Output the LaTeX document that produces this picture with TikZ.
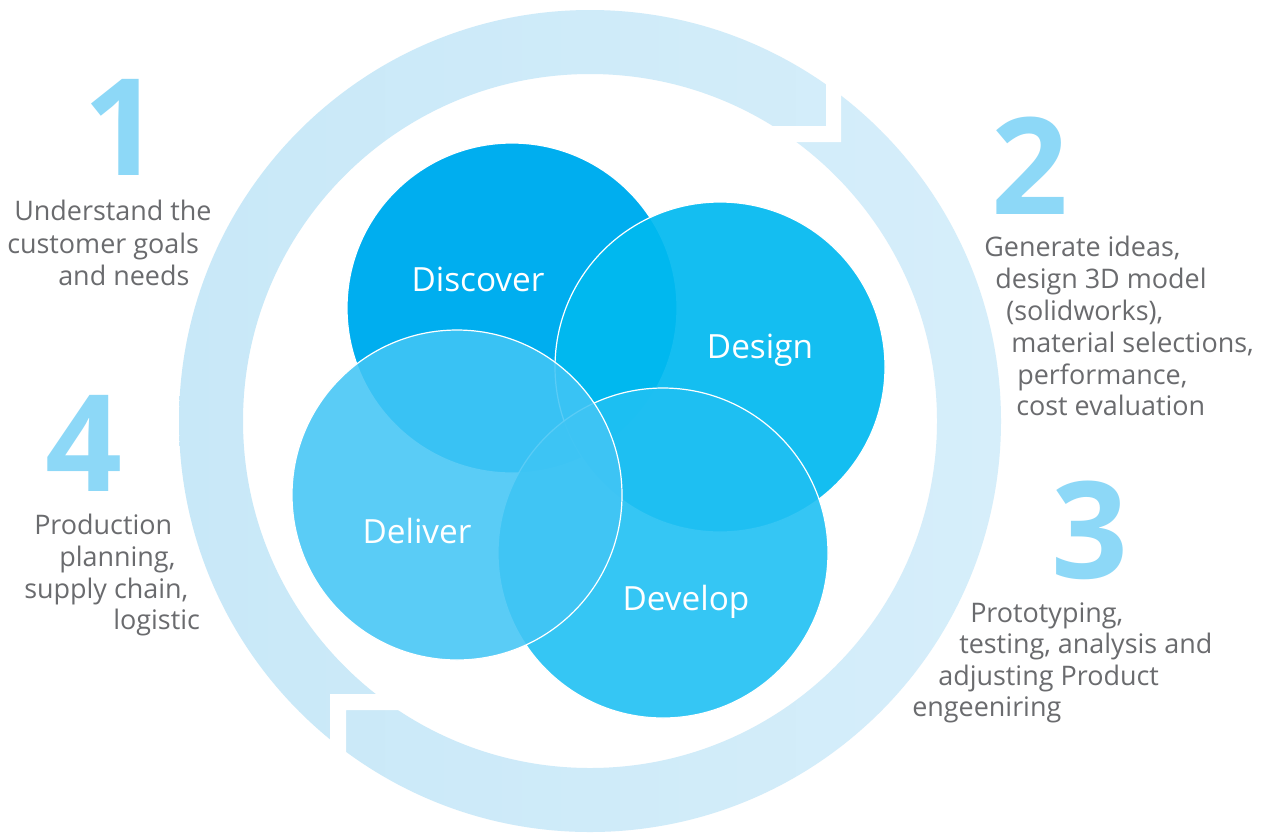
\documentclass[tikz,border=0pt]{standalone}
\usepackage{fontspec}
\setmainfont{Open Sans}
\definecolor{ringL}{HTML}{C8E8F8}
\definecolor{ringR}{HTML}{D6EEFA}
\definecolor{discc}{HTML}{00AEEF}
\definecolor{designc}{RGB}{0,185,240}
\definecolor{developc}{RGB}{32,192,243}
\definecolor{deliverc}{RGB}{66,197,245}
\definecolor{txtgray}{HTML}{6A6B6E}
\definecolor{numblue}{HTML}{8DD8F7}
\begin{document}
\begin{tikzpicture}[x=0.75pt,y=-0.75pt,
  lbl/.style={text=white, font=\fontsize{25}{30}\selectfont, anchor=base, inner sep=0pt},
  desc/.style={text=txtgray, font=\fontsize{20.2}{24}\selectfont, anchor=base west, inner sep=0pt},
  num/.style={text=numblue, font=\bfseries\fontsize{101}{101}\selectfont, anchor=base, inner sep=0pt, text depth=0pt, text height=72pt},
  vcircle/.style={draw=white, line width=0.9pt}]
\useasboundingbox (0,0) rectangle (1269,833);
\fill[white] (0,0) rectangle (1269,833);
% ring with two stepped gaps
\shade[even odd rule, left color=ringL, right color=ringR] (590,421) circle (411) (590,421) circle (347);
\fill[white] (826,60) -- (841,60) -- (841,142) -- (760,142) -- (760,126) -- (826,126) -- cycle;
\fill[white] (330,780) -- (330,694) -- (410,694) -- (410,710) -- (346,710) -- (346,780) -- cycle;
% overlapping circles
\path[fill=discc, vcircle] (512,308) circle (165);
\path[fill=designc, fill opacity=0.92, vcircle] (720,367) circle (165);
\path[fill=developc, fill opacity=0.9, vcircle] (663,553) circle (165);
\path[fill=deliverc, fill opacity=0.87, vcircle] (457,495) circle (165);
% labels
\node[lbl] (ldisc) at (478,291) {Discover};
\node[lbl] (ldesign) at (760,358) {Design};
\node[lbl] (ldeliver) at (417,543) {Deliver};
\node[lbl] (ldevelop) at (686,610) {Develop};
% numbers
\node[num] (n1) at (122,175) {1};
\node[num] (n2) at (1030,214) {2};
\node[num] (n3) at (1090,578) {3};
\node[num] (n4) at (84,491) {4};
% descriptions
\node[desc] (t1a) at (14,220) {Understand the};
\node[desc] (t1b) at (7,253) {customer goals};
\node[desc] (t1c) at (58,285) {and needs};
\node[desc] (t2a) at (984,256) {Generate ideas,};
\node[desc] (t2b) at (995,288) {design 3D model};
\node[desc] (t2c) at (1006,320) {(solidworks),};
\node[desc] (t2d) at (1011,352) {material selections,};
\node[desc] (t2e) at (1017,384) {performance,};
\node[desc] (t2f) at (1016,415) {cost evaluation};
\node[desc] (t3a) at (970,622) {Prototyping,};
\node[desc] (t3b) at (959,653) {testing, analysis and};
\node[desc] (t3c) at (938,685) {adjusting Product};
\node[desc] (t3d) at (912,716) {engeeniring};
\node[desc] (t4a) at (34,534) {Production};
\node[desc] (t4b) at (59,566) {planning,};
\node[desc] (t4c) at (24,598) {supply chain,};
\node[desc] (t4d) at (113,629) {logistic};
\end{tikzpicture}
\end{document}
